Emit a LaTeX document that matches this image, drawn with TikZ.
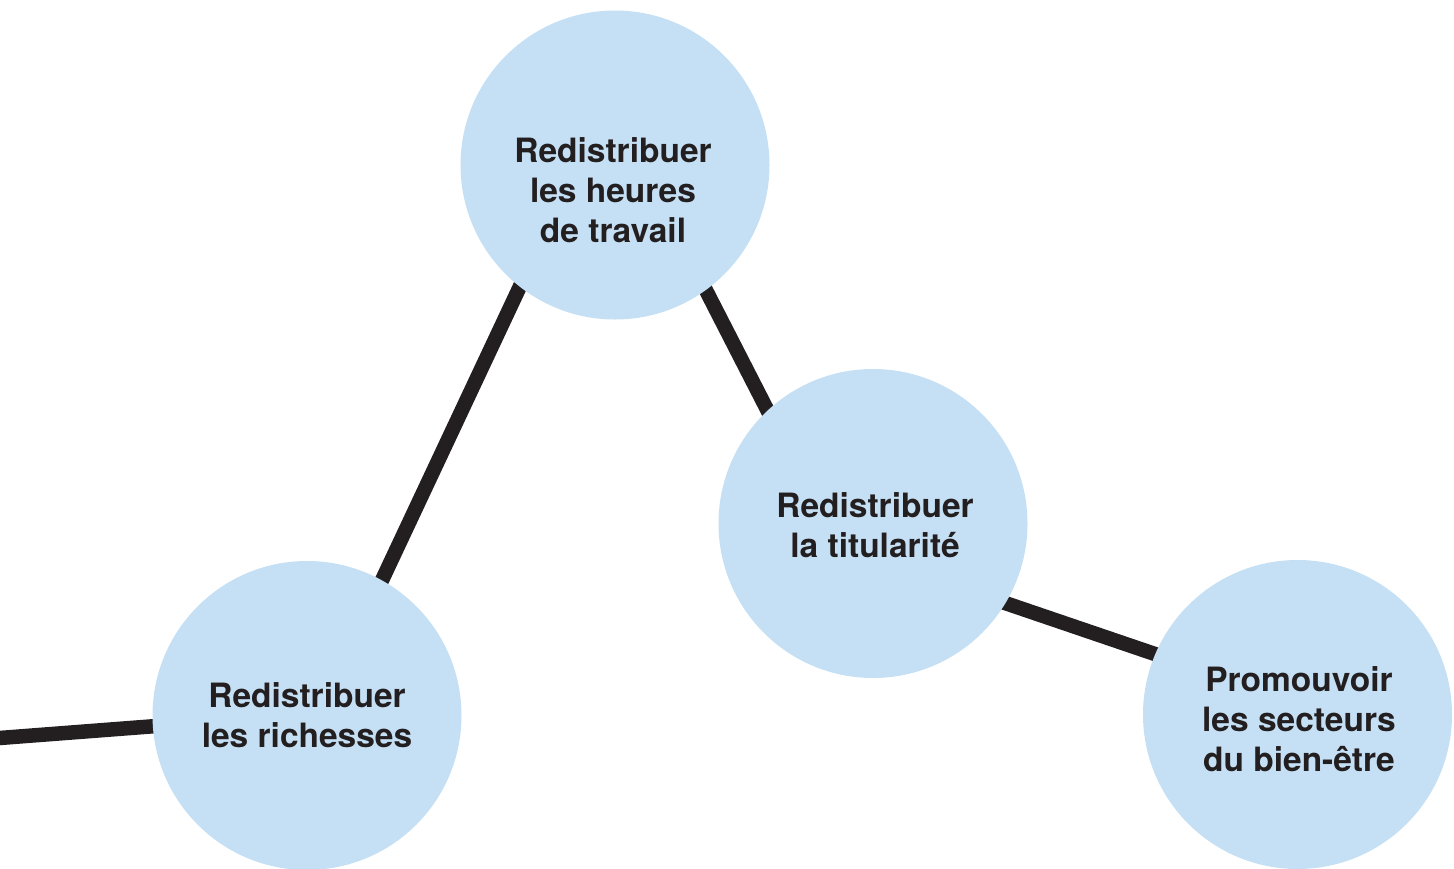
\documentclass[tikz,border=0pt]{standalone}
\usepackage{fontspec}
\setmainfont{TeX Gyre Heros}
\usetikzlibrary{calc}
\pgfdeclarelayer{bg}
\pgfsetlayers{bg,main}
\definecolor{bubble}{RGB}{197,224,244}
\definecolor{ink}{RGB}{35,31,32}
\tikzset{
  bubble/.style={circle, fill=bubble, draw=none, inner sep=0pt, minimum size=309pt},
  label/.style={align=center, text=ink, inner sep=0pt,
    font=\fontsize{33.5pt}{40pt}\selectfont\bfseries},
  link/.style={draw=ink, line width=14.5pt},
}
\begin{document}
\begin{tikzpicture}[x=1pt,y=-1pt]
\useasboundingbox (0,0) rectangle (1454,868);
% circles
\node[bubble] (top) at (615,165) {};
\node[bubble] (mid) at (873,523.5) {};
\node[bubble] (bl)  at (307,715.5) {};
\node[bubble] (br)  at (1297.5,714.5) {};
\coordinate (lend) at (-20,739.5);
% texts
\node[label] (ttop) at (613,190) {Redistribuer\\les heures\\de travail};
\node[label] (tmid) at (875,525) {Redistribuer\\la titularité};
\node[label] (tbl)  at (307,715) {Redistribuer\\les richesses};
\node[label] (tbr)  at (1299,719) {Promouvoir\\les secteurs\\du bien-être};
% connectors
\begin{pgfonlayer}{bg}
\draw[link] (lend) -- ($(bl.184.8)!-12pt!(lend)$);
\draw[link] ($(bl.61)!-12pt!(top.232.5)$) -- ($(top.232.5)!-12pt!(bl.61)$);
\draw[link] ($(top.-54.3)!-12pt!(mid.133.3)$) -- ($(mid.133.3)!-12pt!(top.-54.3)$);
\draw[link] ($(mid.-31.7)!-12pt!(br.157)$) -- ($(br.157)!-12pt!(mid.-31.7)$);
\end{pgfonlayer}
\end{tikzpicture}
\end{document}
